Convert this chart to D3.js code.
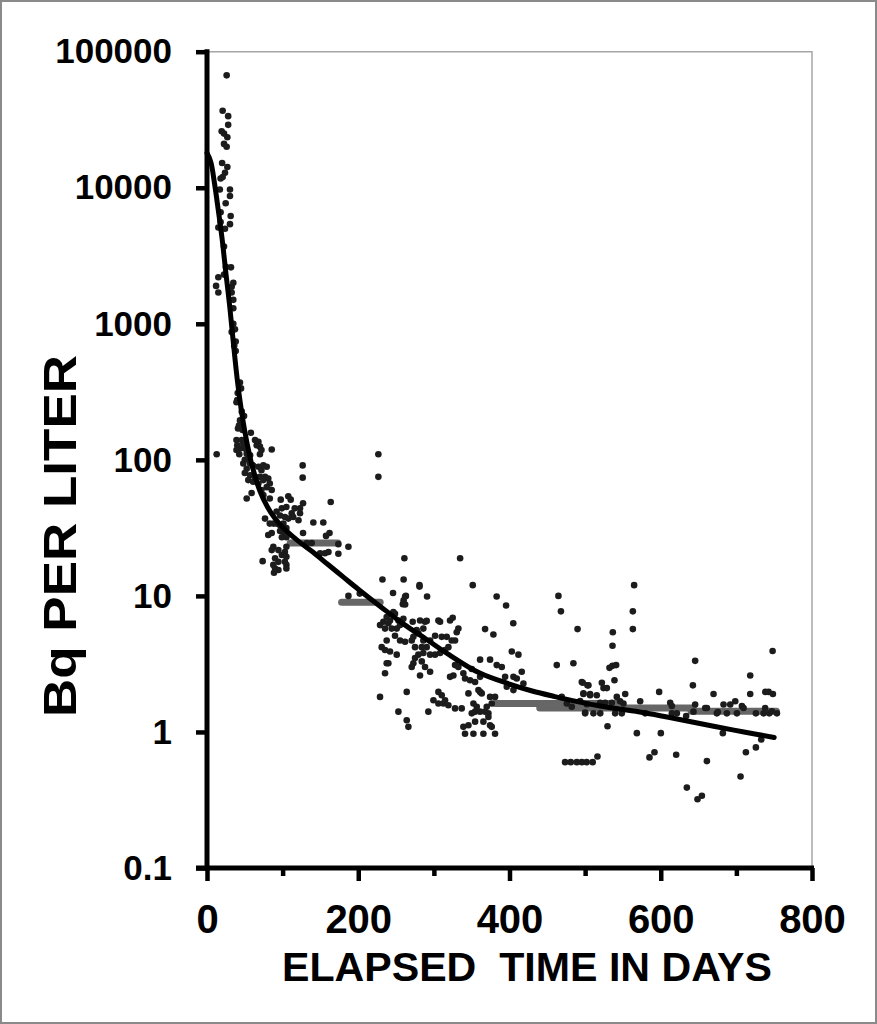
<!DOCTYPE html>
<html>
<head>
<meta charset="utf-8">
<script src="https://cdn.jsdelivr.net/npm/d3@7"></script>
<style>
  body { margin: 0; background: #fff; }
  text { font-family: "Liberation Sans", Arial, sans-serif; font-weight: bold; fill: #000; }
</style>
</head>
<body>
<div id="chart"></div>
<script>
// axis ticks
const xTicks = [0, 200, 400, 600, 800];
const xMinorTicks = [100, 300, 500, 700];
const yTicks = [0.1, 1, 10, 100, 1000, 10000, 100000];
const yTickLabels = ["0.1", "1", "10", "100", "1000", "10000", "100000"];

// fitted curve
const fitDays = [0, 5, 10, 15, 20, 25, 30, 35, 40, 45, 50, 55, 60, 70, 80, 90, 100, 120, 140, 160, 180, 200, 230, 260, 290, 320, 360, 400, 430, 460, 490, 520, 550, 580, 620, 670, 710, 750];
const fitValues = [18000, 15500, 10700, 6800, 4200, 2350, 1350, 710, 390, 240, 162, 117, 89, 59, 45, 37, 32, 25.5, 21, 17, 13.8, 11.2, 8.3, 6.2, 4.8, 3.7, 2.72, 2.25, 2.0, 1.82, 1.67, 1.55, 1.46, 1.38, 1.25, 1.1, 1.0, 0.91];

// runs of repeated values (drawn as grey bars)
const bandStart = [110, 178, 381, 440, 640];
const bandEnd = [173, 229, 546, 643, 753];
const bandValue = [24.5, 9.0, 1.62, 1.50, 1.42];

// measurements [day, Bq/L]
const earlyPoints = [
  [26,67000],[20.7,36800],[28,33600],[28,29000],[19.4,26000],[22.5,25000],[26.9,23500],[22.5,21000],
  [26,20000],[20,15200],[26.9,14200],[23.8,12900],[20.7,12000],[18,11700],[17,9700],[30.4,9700],
  [30.4,8700],[24.7,7700],[18,6600],[31.3,6200],[18,5600],[30.4,5400],[15,5100],[23.8,5000],
  [22.5,3700],[25,2620],[31.7,2600],[15,2200],[22.5,2300],[34.8,2000],[12,1900],[32.6,1870],
  [15,1700],[32.6,1700],[34.8,1500],[34.8,1300],[34.8,1000],[37,910],[32.6,870],[38,740],
  [36,690],[38,630],[43.6,370],[45,335],[40.6,310],[40,275],[39,265],[46,226],[49,210],
  [43.6,195],[42.3,179],[41,170],[47,166],[58,158]
];

const midPoints = [
  [39,140],[46,140],[48,132],[40,128],[43.6,121],[50,121],[39,118],[42.7,110],[52.5,111],[63.5,140],
  [68,136],[65.7,128],[70,125],[72,118],[70,110],[57,108],[54.6,102],[50,100],[48,94],[57,94],
  [61,91],[52.5,86],[68,89],[74.5,91],[79,89],[72,84],[50,80],[57,77],[63.5,75],[70,75],
  [76.7,75],[81,73],[54.6,71],[61,69],[68,67],[74.5,71],[83,67],[79,63],[72,60],[85.6,60],
  [74.5,55],[83,52],[52.5,52],[59,57],[85.6,119],[12.8,110],[126.5,91],[126.5,74],[226.6,110],[226.6,75],
  [163.6,49],[97.5,51],[107.5,54],[110.7,51],[127,48],[99,44],[105,45],[116,44],[123,44],[112,40.5],
  [123,40.5],[92,41.7],[76.7,37],[96.6,39],[103,38],[107.5,37],[114,38],[121,36],[83,34],[88,34],
  [92,34],[96.6,33],[101,34],[85.6,29],[81,28],[96.6,30],[101,29.5],[105,31.5],[99,27],[105,27],
  [127,29],[140.6,34.6],[153.8,34.6],[157.4,27.6],[162,29],[132,24.5],[138.5,24.5],[173.7,24],[187,23],[149.5,20.6],
  [156,20.6],[160.6,21],[173.7,20.4],[87.7,23],[94.4,21.7],[105,23],[103,21],[99,20],[105,19.4],[90,18.9],
  [94.4,17.8],[103,17.8],[105,16.9],[87.7,16.9],[90,15.9],[94.4,15.5],[105,15.9],[88.6,14.8],[73.6,18],[85.6,21.7],
  [261,18.9],[232,13.2],[260,13.2],[187,10],[202,10.4],[246,10.5],[262,9.9],[281,11.7],[291,9.9],[259,8.7],[306,6.6]
];

const latePoints = [
  [334.7,18.9],[281,12],[263,10],[351.4,12],[383,9.9],[395.5,8.5],[464.7,10],[468,7.7],[490,5.7],[405,6.3],
  [367.7,5.7],[378.7,5.2],[260,9.3],[262,8.65],[246.4,7.6],[248.6,7.4],[237.6,7.0],[233.2,6.45],[239.8,6.3],[228.8,6.1],
  [235.4,5.75],[244.2,5.75],[250.9,5.75],[255.3,6.1],[257.5,6.45],[259.7,6.8],[253.1,6.6],[242,6.6],[248.6,5.1],[255.3,4.7],
  [261.9,4.6],[270.7,4.7],[272.9,5.0],[277.3,5.6],[286.1,5.75],[288.3,6.45],[272,6.45],[281.7,6.6],[290.5,6.55],[279.5,5.3],
  [286.1,4.7],[275.1,4.2],[284,4.2],[290.5,4.2],[295,4.7],[301.6,5.1],[308.2,6.45],[310.4,5.0],[317,5.0],[321.4,6.6],
  [324.9,6.9],[323.6,4.7],[328,4.7],[319.2,4.2],[330.2,5.4],[332.4,5.75],[314.8,4.0],[308.2,3.8],[301.6,3.7],[295,3.7],
  [286.1,3.8],[279.5,3.7],[275.1,3.5],[272.9,3.2],[284,3.3],[288.3,3.0],[295,2.77],[281.7,2.6],[270.7,3.0],[237.6,4.7],
  [231,4.2],[235.4,4.0],[242,3.9],[237.6,3.2],[239.8,3.2],[250.9,3.7],[235.4,2.7],[228.8,1.81],[264.1,1.97],[253.1,1.41],
  [264.1,1.22],[266.3,1.09],[292.7,1.41],[299.4,1.71],[306,1.97],[310.4,1.86],[306,1.62],[312.6,1.62],[314.8,1.71],[319.2,1.57],
  [328,1.49],[336.8,1.49],[321.4,2.54],[328,3.1],[332.4,3.0],[325.8,2.6],[339,2.7],[341.2,2.47],[347.9,2.4],[354.5,2.33],
  [361.1,2.54],[350.1,2.9],[361.1,3.4],[374.3,3.4],[383.1,3.1],[389.8,3.0],[394.2,2.54],[403,3.9],[411.8,3.7],[405.2,2.54],
  [409.6,2.47],[416.2,2.77],[418.4,2.27],[345.7,1.92],[352.3,1.62],[358.9,2.03],[361.1,1.97],[363.3,1.92],[356.7,1.53],[354.5,1.41],
  [361.1,1.41],[350.1,1.37],[367.7,1.41],[372.1,1.37],[374.3,1.81],[380.9,1.81],[376.5,1.62],[369.9,1.53],[372.1,1.29],[374.3,1.12],
  [380.9,0.97],[365.5,1.19],[354.5,1.19],[345.7,1.12],[339,1.09],[341.2,0.97],[352.3,0.97],[365.5,0.97],[376.5,1.09],[462.5,3.1],
  [484.5,3.2],[495.6,2.33],[504.4,2.2],[497.8,1.92],[506.6,1.86],[396.4,2.15],[405.2,2.03],[469.1,1.81],[475.8,1.62],[482.3,1.53],
  [500,1.37],[515.4,1.86]
];

const tailPoints = [
  [564.8,12.0],[563.1,7.7],[563.1,5.7],[536.6,5.4],[536.2,4.3],[532.2,2.96],[536.2,3.06],[541,3.1],[538.8,2.4],[496.9,2.3],
  [503.1,2.2],[497.8,1.9],[506.6,1.9],[500,1.39],[522.1,2.3],[524.3,2.1],[528.7,2.1],[541.9,1.81],[553,1.9],[546.3,1.68],
  [550.7,1.62],[572.8,1.68],[597.9,1.97],[645.5,3.33],[642.5,2.2],[645.5,1.59],[669.8,1.9],[683,1.59],[691.9,1.59],[698.5,1.68],
  [718.3,2.6],[718.3,1.9],[738.2,1.97],[742.6,1.97],[748.3,1.9],[747.9,3.94],[529.6,1.1],[568.4,0.98],[600.1,0.98],[620.4,0.68],
  [585.1,0.65],[591.7,0.71],[661,0.61],[634.5,0.39],[648.6,0.32],[654.4,0.34],[682.1,0.98],[712.6,0.71],[725.8,0.77],[732.9,0.88],
  [705.5,0.47],[633.6,1.31],
  [473.5,0.6],[481,0.6],[489,0.6],[495.6,0.6],[502,0.6],[510,0.6],[516.3,0.66],
  [511,1.37],[520,1.37],[539.7,1.37],[548.5,1.37],[579.4,1.37],[614.7,1.37],[621.3,1.37],[674.2,1.37],[687.4,1.37],[700.7,1.37],
  [725.8,1.37],[736,1.37],[743.5,1.37],[753.6,1.37],[493.4,1.69],[502.2,1.6],[519.9,1.64],[526.5,1.64],[535.3,1.64],[612.5,1.64],
  [614.7,1.55],[643.3,1.41],[658.8,1.5],[661,1.5],[707.3,1.55],[709.5,1.5],[675.5,1.4],[738,1.5],[747,1.42]
];

const width = 877;
const height = 1024;

const svg = d3.select("#chart")
    .append("svg")
    .attr("width", width)
    .attr("height", height);

// outer frame
svg.append("rect")
    .attr("x", 1)
    .attr("y", 1)
    .attr("width", width - 2)
    .attr("height", height - 2)
    .attr("fill", "#fff")
    .attr("stroke", "#8a8a8a")
    .attr("stroke-width", 2);

const x = d3.scaleLinear().domain([0, 800]).range([207, 812]);
const y = d3.scaleLog().domain([0.1, 100000]).range([868, 51.7]);

// thin grey top / right edge of plot area
svg.append("path")
    .attr("d", `M${x(0)},${y(100000)}H${x(800)}V${y(0.1)}`)
    .attr("fill", "none")
    .attr("stroke", "#a6a6a6")
    .attr("stroke-width", 1.5);

// runs of repeated values
const bands = bandStart.map((s, i) => ({ s: s, e: bandEnd[i], v: bandValue[i] }));
svg.selectAll(".band")
    .data(bands)
    .enter().append("line")
    .attr("class", "band")
    .attr("x1", d => x(d.s))
    .attr("x2", d => x(d.e))
    .attr("y1", d => y(d.v))
    .attr("y2", d => y(d.v))
    .attr("stroke", "#666")
    .attr("stroke-width", 7)
    .attr("stroke-linecap", "round");

const allPoints = earlyPoints.concat(midPoints, latePoints, tailPoints);
svg.selectAll(".pt")
    .data(allPoints)
    .enter().append("circle")
    .attr("class", "pt")
    .attr("cx", d => x(d[0]))
    .attr("cy", d => y(d[1]))
    .attr("r", 3.3)
    .attr("fill", "#1c1c1c");

// fitted curve
const fit = fitDays.map((d, i) => [d, fitValues[i]]);
svg.append("path")
    .datum(fit)
    .attr("fill", "none")
    .attr("stroke", "#000")
    .attr("stroke-width", 5)
    .attr("stroke-linecap", "round")
    .attr("d", d3.line()
        .x(d => x(d[0]))
        .y(d => y(d[1]))
        .curve(d3.curveCatmullRom.alpha(0.5)));

// y axis
const yAxis = svg.append("g")
    .attr("transform", `translate(${x(0)},0)`)
    .call(d3.axisLeft(y)
        .tickValues(yTicks)
        .tickFormat((d, i) => yTickLabels[i])
        .tickSize(11)
        .tickSizeOuter(0)
        .tickPadding(24));
yAxis.select(".domain").remove();
yAxis.selectAll(".tick line").attr("stroke", "#000").attr("stroke-width", 4.5);
yAxis.selectAll(".tick text")
    .style("font-size", "35px")
    .style("font-family", "'Liberation Sans', Arial, sans-serif")
    .style("font-weight", "bold");

svg.append("line")
    .attr("x1", x(0)).attr("x2", x(0))
    .attr("y1", y(100000) - 2.5).attr("y2", y(0.1) + 2.5)
    .attr("stroke", "#000")
    .attr("stroke-width", 5);

// x axis
const xAxis = svg.append("g")
    .attr("transform", `translate(0,${y(0.1)})`)
    .call(d3.axisBottom(x)
        .tickValues(xTicks)
        .tickSize(13)
        .tickSizeOuter(0)
        .tickPadding(24));
xAxis.select(".domain").remove();
xAxis.selectAll(".tick line").attr("stroke", "#000").attr("stroke-width", 4.5);
xAxis.selectAll(".tick text")
    .style("font-size", "40px")
    .style("font-family", "'Liberation Sans', Arial, sans-serif")
    .style("font-weight", "bold");

svg.append("g")
    .attr("transform", `translate(0,${y(0.1)})`)
    .call(d3.axisBottom(x)
        .tickValues(xMinorTicks)
        .tickSize(8)
        .tickSizeOuter(0)
        .tickFormat(""))
    .call(g => g.select(".domain").remove())
    .selectAll(".tick line").attr("stroke", "#000").attr("stroke-width", 4.5);

svg.append("line")
    .attr("x1", x(0) - 11).attr("x2", x(800) + 2)
    .attr("y1", y(0.1)).attr("y2", y(0.1))
    .attr("stroke", "#000")
    .attr("stroke-width", 5);

// titles
svg.append("text")
    .attr("x", 527)
    .attr("y", 981)
    .attr("text-anchor", "middle")
    .attr("textLength", 490)
    .attr("lengthAdjust", "spacingAndGlyphs")
    .style("font-size", "40px")
    .style("white-space", "pre")
    .text("ELAPSED  TIME IN DAYS");

svg.append("text")
    .attr("transform", "translate(76,536) rotate(-90)")
    .attr("text-anchor", "middle")
    .attr("textLength", 362)
    .attr("lengthAdjust", "spacingAndGlyphs")
    .style("font-size", "46px")
    .text("Bq PER LITER");
</script>
</body>
</html>
